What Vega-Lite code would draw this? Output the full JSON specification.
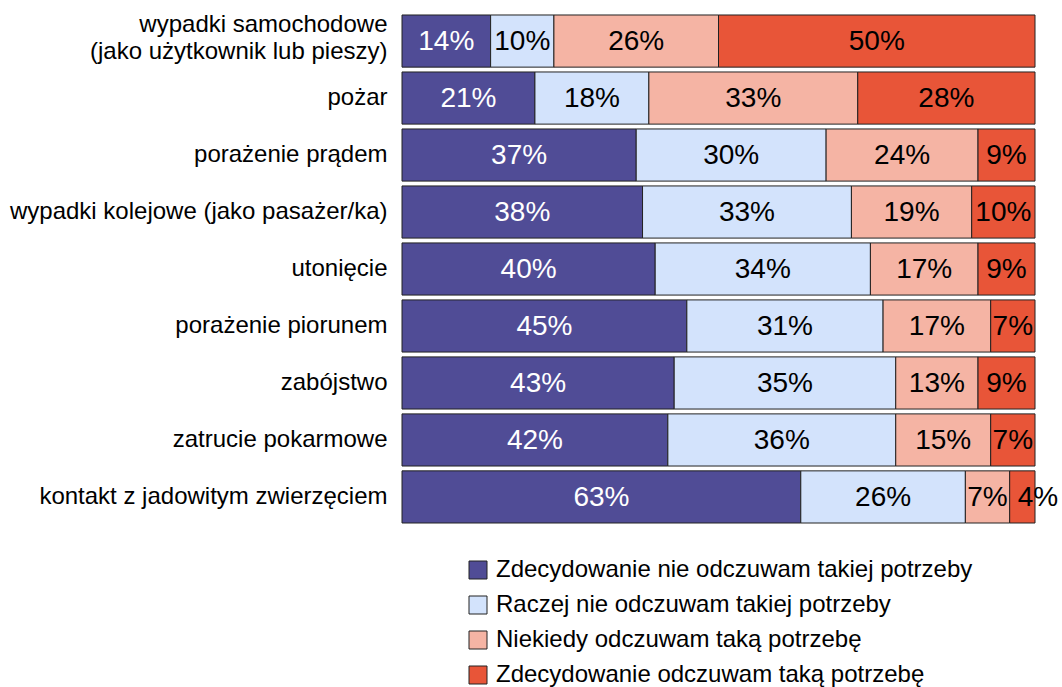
{
  "$schema": "https://vega.github.io/schema/vega-lite/v6.json",
  "width": 633,
  "height": 512,
  "autosize": "none",
  "padding": {"left": 402, "top": 13, "right": 27, "bottom": 162},
  "config": {"view": {"stroke": null}, "font": "Liberation Sans"},
  "data": {"values": [
    {"cat": "wypadki samochodowe|(jako użytkownik lub pieszy)", "series": "Zdecydowanie nie odczuwam takiej potrzeby", "o": 1, "v": 14},
    {"cat": "wypadki samochodowe|(jako użytkownik lub pieszy)", "series": "Raczej nie odczuwam takiej potrzeby", "o": 2, "v": 10},
    {"cat": "wypadki samochodowe|(jako użytkownik lub pieszy)", "series": "Niekiedy odczuwam taką potrzebę", "o": 3, "v": 26},
    {"cat": "wypadki samochodowe|(jako użytkownik lub pieszy)", "series": "Zdecydowanie odczuwam taką potrzebę", "o": 4, "v": 50},
    {"cat": "pożar", "series": "Zdecydowanie nie odczuwam takiej potrzeby", "o": 1, "v": 21},
    {"cat": "pożar", "series": "Raczej nie odczuwam takiej potrzeby", "o": 2, "v": 18},
    {"cat": "pożar", "series": "Niekiedy odczuwam taką potrzebę", "o": 3, "v": 33},
    {"cat": "pożar", "series": "Zdecydowanie odczuwam taką potrzebę", "o": 4, "v": 28},
    {"cat": "porażenie prądem", "series": "Zdecydowanie nie odczuwam takiej potrzeby", "o": 1, "v": 37},
    {"cat": "porażenie prądem", "series": "Raczej nie odczuwam takiej potrzeby", "o": 2, "v": 30},
    {"cat": "porażenie prądem", "series": "Niekiedy odczuwam taką potrzebę", "o": 3, "v": 24},
    {"cat": "porażenie prądem", "series": "Zdecydowanie odczuwam taką potrzebę", "o": 4, "v": 9},
    {"cat": "wypadki kolejowe (jako pasażer/ka)", "series": "Zdecydowanie nie odczuwam takiej potrzeby", "o": 1, "v": 38},
    {"cat": "wypadki kolejowe (jako pasażer/ka)", "series": "Raczej nie odczuwam takiej potrzeby", "o": 2, "v": 33},
    {"cat": "wypadki kolejowe (jako pasażer/ka)", "series": "Niekiedy odczuwam taką potrzebę", "o": 3, "v": 19},
    {"cat": "wypadki kolejowe (jako pasażer/ka)", "series": "Zdecydowanie odczuwam taką potrzebę", "o": 4, "v": 10},
    {"cat": "utonięcie", "series": "Zdecydowanie nie odczuwam takiej potrzeby", "o": 1, "v": 40},
    {"cat": "utonięcie", "series": "Raczej nie odczuwam takiej potrzeby", "o": 2, "v": 34},
    {"cat": "utonięcie", "series": "Niekiedy odczuwam taką potrzebę", "o": 3, "v": 17},
    {"cat": "utonięcie", "series": "Zdecydowanie odczuwam taką potrzebę", "o": 4, "v": 9},
    {"cat": "porażenie piorunem", "series": "Zdecydowanie nie odczuwam takiej potrzeby", "o": 1, "v": 45},
    {"cat": "porażenie piorunem", "series": "Raczej nie odczuwam takiej potrzeby", "o": 2, "v": 31},
    {"cat": "porażenie piorunem", "series": "Niekiedy odczuwam taką potrzebę", "o": 3, "v": 17},
    {"cat": "porażenie piorunem", "series": "Zdecydowanie odczuwam taką potrzebę", "o": 4, "v": 7},
    {"cat": "zabójstwo", "series": "Zdecydowanie nie odczuwam takiej potrzeby", "o": 1, "v": 43},
    {"cat": "zabójstwo", "series": "Raczej nie odczuwam takiej potrzeby", "o": 2, "v": 35},
    {"cat": "zabójstwo", "series": "Niekiedy odczuwam taką potrzebę", "o": 3, "v": 13},
    {"cat": "zabójstwo", "series": "Zdecydowanie odczuwam taką potrzebę", "o": 4, "v": 9},
    {"cat": "zatrucie pokarmowe", "series": "Zdecydowanie nie odczuwam takiej potrzeby", "o": 1, "v": 42},
    {"cat": "zatrucie pokarmowe", "series": "Raczej nie odczuwam takiej potrzeby", "o": 2, "v": 36},
    {"cat": "zatrucie pokarmowe", "series": "Niekiedy odczuwam taką potrzebę", "o": 3, "v": 15},
    {"cat": "zatrucie pokarmowe", "series": "Zdecydowanie odczuwam taką potrzebę", "o": 4, "v": 7},
    {"cat": "kontakt z jadowitym zwierzęciem", "series": "Zdecydowanie nie odczuwam takiej potrzeby", "o": 1, "v": 63},
    {"cat": "kontakt z jadowitym zwierzęciem", "series": "Raczej nie odczuwam takiej potrzeby", "o": 2, "v": 26},
    {"cat": "kontakt z jadowitym zwierzęciem", "series": "Niekiedy odczuwam taką potrzebę", "o": 3, "v": 7},
    {"cat": "kontakt z jadowitym zwierzęciem", "series": "Zdecydowanie odczuwam taką potrzebę", "o": 4, "v": 4}
  ]},
  "transform": [
    {"stack": "v", "groupby": ["cat"], "sort": [{"field": "o", "order": "ascending"}], "as": ["v0", "v1"]},
    {"calculate": "(datum.v0 + datum.v1) / 2", "as": "mid"},
    {"calculate": "datum.v + '%'", "as": "lbl"}
  ],
  "encoding": {
    "y": {
      "field": "cat", "type": "nominal", "sort": null, "title": null,
      "scale": {"paddingInner": 0.085, "paddingOuter": 0.035},
      "axis": {
        "domain": false, "ticks": false, "grid": false,
        "labelFontSize": 24, "labelColor": "#000", "labelPadding": 15,
        "labelLimit": 0, "labelLineHeight": 27,
        "labelOffset": {"condition": {"test": "indexof(datum.value, '|') >= 0", "value": -16}, "value": 0},
        "labelExpr": "split(datum.label, '|')"
      }
    }
  },
  "layer": [
    {
      "mark": {"type": "bar", "stroke": "#222", "strokeWidth": 1},
      "encoding": {
        "x": {"field": "v0", "type": "quantitative", "scale": {"domain": [0, 100], "nice": false}, "axis": null},
        "x2": {"field": "v1"},
        "color": {
          "field": "series", "type": "nominal",
          "scale": {
            "domain": ["Zdecydowanie nie odczuwam takiej potrzeby", "Raczej nie odczuwam takiej potrzeby", "Niekiedy odczuwam taką potrzebę", "Zdecydowanie odczuwam taką potrzebę"],
            "range": ["#504C96", "#D3E3FC", "#F5B4A4", "#E85538"]
          },
          "legend": {
            "title": null, "orient": "none", "legendX": 64, "legendY": 545,
            "direction": "vertical", "symbolType": "square", "symbolSize": 324,
            "symbolStrokeColor": "#222", "symbolStrokeWidth": 1,
            "labelFontSize": 24, "labelColor": "#000", "rowPadding": 11,
            "labelOffset": 6, "labelLimit": 0
          }
        }
      }
    },
    {
      "transform": [{"filter": "datum.v >= 5"}],
      "mark": {"type": "text", "fontSize": 28, "baseline": "middle", "align": "center", "dy": 1},
      "encoding": {
        "x": {"field": "mid", "type": "quantitative"},
        "text": {"field": "lbl", "type": "nominal"},
        "color": {"condition": {"test": "datum.o === 1", "value": "#ffffff"}, "value": "#000000"}
      }
    },
    {
      "transform": [{"filter": "datum.v < 5"}],
      "mark": {"type": "text", "fontSize": 28, "baseline": "middle", "align": "left", "dx": 8, "dy": 1, "color": "#000000"},
      "encoding": {
        "x": {"field": "v0", "type": "quantitative"},
        "text": {"field": "lbl", "type": "nominal"}
      }
    }
  ]
}
